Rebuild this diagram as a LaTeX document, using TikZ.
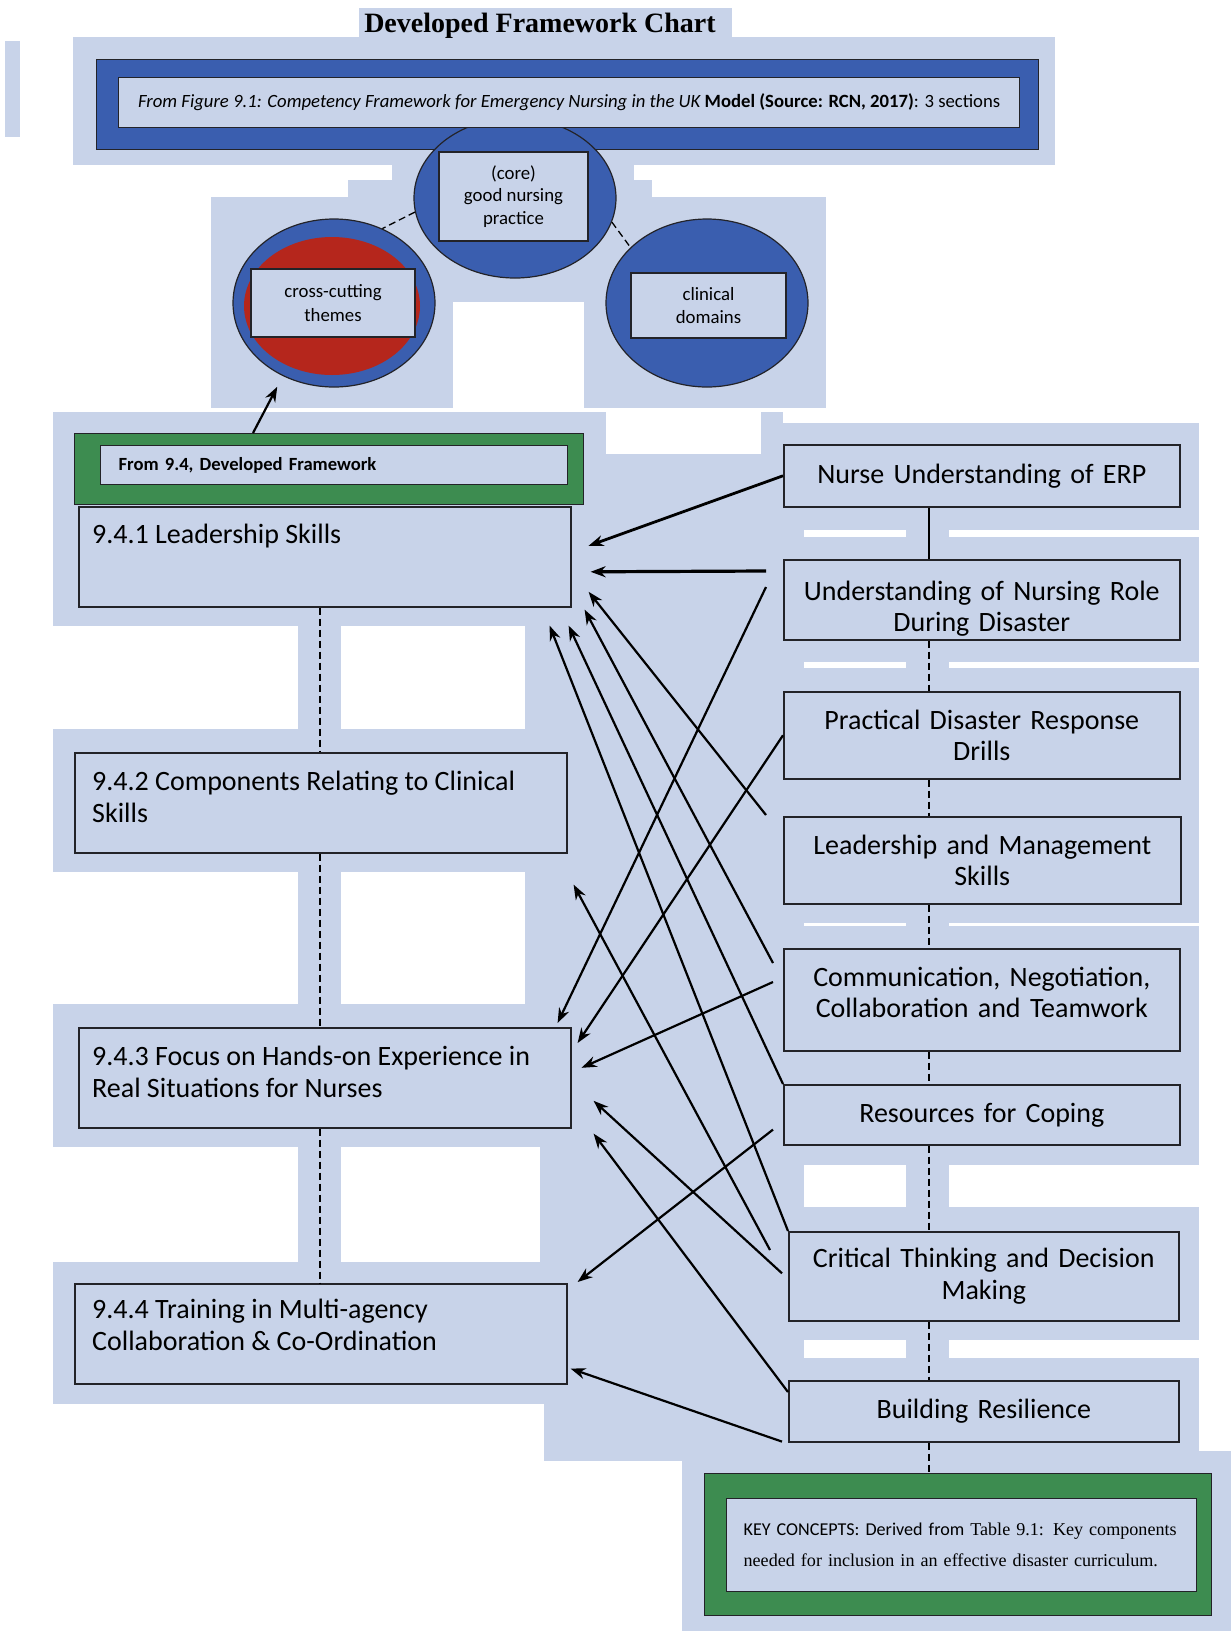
\documentclass[tikz,border=0pt]{standalone}
\usepackage{fontspec}
\setmainfont{Carlito}
\newfontfamily\serifface{Liberation Serif}
\definecolor{PaleBlue}{RGB}{200,211,233}
\definecolor{RoyalBlue}{RGB}{58,94,175}
\definecolor{BrickRed}{RGB}{181,38,28}
\definecolor{LeafGreen}{RGB}{61,140,80}
\definecolor{InkGray}{RGB}{35,35,40}
\usetikzlibrary{arrows.meta, shapes.geometric, calc}

\tikzset{
  box/.style={draw=InkGray, line width=1.6pt, fill=PaleBlue, inner sep=0pt},
  plate/.style={draw=InkGray, line width=1pt, inner sep=0pt, anchor=north west},
  oval/.style={ellipse, draw=InkGray, line width=1.2pt, fill=RoyalBlue, inner sep=0pt},
  big/.style={font=\fontsize{28}{31.5}\selectfont},
  small/.style={font=\fontsize{18.8}{23.5}\selectfont},
  rbox/.style={box, big, anchor=north west, text width=370pt, align=center},
  lbox/.style={box, anchor=north west, minimum width=492pt, minimum height=100pt},
  ltext/.style={big, anchor=north west, inner sep=0pt, align=left},
  arr/.style={-{Stealth[length=15pt, width=11pt]}, line width=2.2pt},
  link/.style={line width=1.3pt, dash pattern=on 7pt off 4pt}
}

\begin{document}
\begin{tikzpicture}[x=1pt, y=-1pt]
\useasboundingbox (0,0) rectangle (1231,1631);
\fill[PaleBlue] (359,8) rectangle (732,37);
\fill[PaleBlue] (5,41) rectangle (20,137);
\fill[PaleBlue] (73,37) rectangle (1055,165);
\fill[PaleBlue] (392,165) rectangle (634,180);
\fill[PaleBlue] (348,180) rectangle (652,197);
\fill[PaleBlue] (211,197) rectangle (826,302);
\fill[PaleBlue] (211,302) rectangle (453,408);
\fill[PaleBlue] (584,302) rectangle (826,408);
\fill[PaleBlue] (53,412) rectangle (783,1404);
\fill[PaleBlue] (761,423) rectangle (1199,1451);
\fill[PaleBlue] (544,1404) rectangle (1199,1461);
\fill[PaleBlue] (682,1451) rectangle (1231,1631);
\fill[white] (606,412) rectangle (761,454);
\foreach \ya/\yb/\xb in {626/729/525, 872/1004/525, 1147/1262/540} {
  \fill[white] (0,\ya) rectangle (298,\yb);
  \fill[white] (341,\ya) rectangle (\xb,\yb);
}
\foreach \ya/\yb in {530/537, 662/668, 923/926, 1165/1207, 1340/1358} {
  \fill[white] (804,\ya) rectangle (906,\yb);
  \fill[white] (949,\ya) rectangle (1231,\yb);
}

\node[font=\serifface\bfseries\fontsize{28}{32}\selectfont, inner sep=0pt] (title) at (540,26) {Developed Framework Chart};

\node[plate, fill=RoyalBlue, minimum width=942pt, minimum height=90pt] (band) at (96,59) {};
\node[oval, minimum width=202pt, minimum height=160pt] (core) at (515,198) {};
\node[box, anchor=north west, line width=1.3pt, minimum width=901pt, minimum height=50pt, font=\fontsize{18.7}{20}\selectfont] (source) at (118,77)
  {{\itshape From Figure 9.1: Competency Framework for Emergency Nursing in the UK} {\bfseries Model (Source: RCN, 2017)}: 3 sections};
\node[box, small, line width=1.3pt, minimum width=149pt, minimum height=89pt, align=center, font=\fontsize{18.8}{22.5}\selectfont] (corebox) at (513.5,196.5) {(core)\\good nursing\\practice};

\node[oval, minimum width=202pt, minimum height=168pt] (themes) at (334,303) {};
\node[ellipse, fill=BrickRed, inner sep=0pt, minimum width=176pt, minimum height=138pt] (themesfill) at (332,306) {};
\node[box, small, line width=1.3pt, minimum width=164pt, minimum height=68pt, align=center] (themesbox) at (333,303) {cross-cutting\\themes};
\node[oval, minimum width=202pt, minimum height=168pt] (domains) at (707,303) {};
\node[box, small, line width=1.3pt, minimum width=155pt, minimum height=65pt, align=center] (domainsbox) at (708.5,305.5) {clinical\\domains};
\draw[link] (core.188) -- (themes.57);
\draw[link] (core.-14) -- (domains.144);

\node[plate, fill=LeafGreen, minimum width=509pt, minimum height=71pt] (devframe) at (74,433) {};
\node[box, anchor=north west, line width=1.3pt, minimum width=467pt, minimum height=39pt, text width=431pt, align=left, font=\bfseries\fontsize{18.6}{22}\selectfont] (devlabel) at (100,445) {From 9.4, Developed Framework};
\draw[arr] ($(devframe.north west)+(179,0)$) -- ($(themes.236)+(-7,10)$);

\node[lbox] (lead) at (78,506) {};
\node[ltext] (leadtext) at (92,524) {9.4.1 Leadership Skills};
\node[lbox] (clin) at (74,752) {};
\node[ltext] (clintext) at (92,771) {9.4.2 Components Relating to Clinical\\Skills};
\node[lbox] (hands) at (78,1027) {};
\node[ltext] (handstext) at (92,1046) {9.4.3 Focus on Hands-on Experience in\\Real Situations for Nurses};
\node[lbox] (multi) at (74,1283) {};
\node[ltext] (multitext) at (92,1299) {9.4.4 Training in Multi-agency\\Collaboration \& Co-Ordination};
\coordinate (trunk) at (320,0);
\foreach \p/\q in {lead/clin, clin/hands, hands/multi}
  \draw[link] (\p.south -| trunk) -- (\q.north -| trunk);

\node[rbox, minimum width=396pt, minimum height=62pt] (erp) at (783,444) {Nurse Understanding of ERP\vphantom{p}};
\node[rbox, minimum width=396pt, minimum height=80pt] (role) at (783,559) {\vphantom{Ug}\\[-12pt]Understanding of Nursing Role\\During Disaster};
\node[rbox, minimum width=396pt, minimum height=87pt] (drills) at (783,691) {Practical Disaster Response\\Drills};
\node[rbox, minimum width=397pt, minimum height=87pt] (manage) at (783,816) {Leadership and Management\\Skills};
\node[rbox, minimum width=396pt, minimum height=102pt] (comms) at (783,948) {Communication, Negotiation,\\Collaboration and Teamwork\\[-21pt]\vphantom{g}};
\node[rbox, minimum width=396pt, minimum height=60pt] (coping) at (783,1084) {Resources for Coping};
\node[rbox, minimum width=390pt, minimum height=89pt] (critical) at (788,1231) {Critical Thinking and Decision\\Making};
\node[rbox, minimum width=390pt, minimum height=61pt] (resil) at (788,1380) {Building Resilience};

\node[plate, fill=LeafGreen, minimum width=507pt, minimum height=142pt] (keyframe) at (704,1473) {};
\node[box, anchor=north west, line width=1.3pt, minimum width=470pt, minimum height=93pt, text width=436pt, align=left, font=\fontsize{18.1}{31}\selectfont] (keytext) at (726,1498)
  {\mbox{KEY CONCEPTS: Derived from {\serifface Table 9.1: Key components}}\\\mbox{\serifface needed for inclusion in an effective disaster curriculum.}};

\coordinate (spine) at (929,0);
\draw[line width=1.3pt] (erp.south -| spine) -- (role.north -| spine);
\foreach \p/\q in {role/drills, drills/manage, manage/comms, comms/coping, coping/critical, critical/resil, resil/keyframe}
  \draw[link] (\p.south -| spine) -- (\q.north -| spine);

\draw[arr, line width=2.8pt] (erp.west) -- ($(lead.east)+(17,-11)$);
\draw[arr, line width=3.2pt] ($(role.north west)+(-17,12)$) -- ($(lead.east)+(19,15)$);
\draw[arr] ($(manage.north west)+(-17,-1)$) -- ($(lead.east)+(17,35)$);
\draw[arr] ($(comms.north west)+(-10,15)$) -- ($(lead.south east)+(13,2)$);
\draw[arr] (coping.north west) -- ($(lead.south east)+(-3,18)$);
\draw[arr] (critical.north west) -- ($(lead.south east)+(-22,18)$);
\draw[arr] ($(critical.north west)+(-18,19)$) -- ($(clin.south east)+(6,31)$);
\draw[arr] ($(role.north west)+(-17,28)$) -- ($(hands.north east)+(-14,-4)$);
\draw[arr] (drills.west) -- ($(hands.north east)+(6,16)$);
\draw[arr] ($(comms.north west)+(-10,34)$) -- ($(hands.east)+(10,-10)$);
\draw[arr] ($(critical.west)+(-6,-3)$) -- ($(hands.east)+(22,23)$);
\draw[arr] ($(resil.north west)+(0,12)$) -- ($(hands.south east)+(22,5)$);
\draw[arr] ($(coping.south west)+(-10,-16)$) -- ($(multi.north east)+(10,-1)$);
\draw[arr] ($(resil.south west)+(-6,-1)$) -- ($(multi.south east)+(3,-16)$);
\end{tikzpicture}
\end{document}
